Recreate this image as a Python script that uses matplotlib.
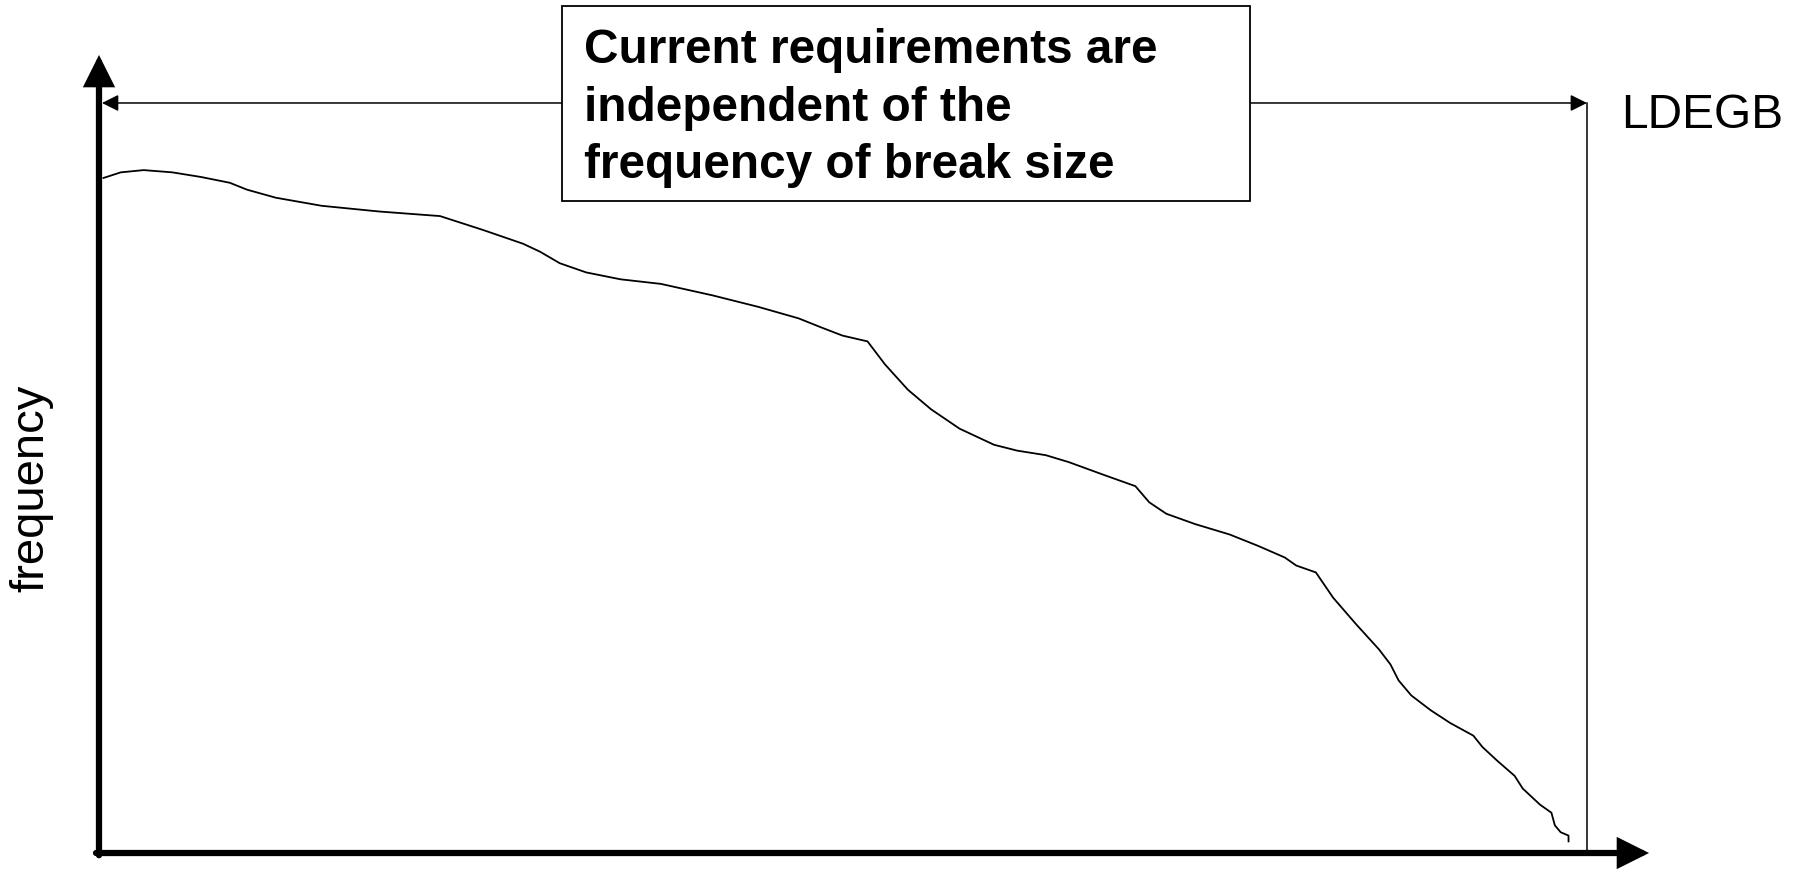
import matplotlib
matplotlib.use("Agg")
import matplotlib.pyplot as plt
from matplotlib.patches import Rectangle

# ---- data (break size vs frequency, arbitrary units: LDEGB = 100) ----
break_size = [0.30, 1.46, 3.0, 4.93, 6.86, 8.79, 9.95, 11.88, 14.97, 18.83, 22.92,
              25.79, 28.49, 29.64, 30.96, 32.74, 35.05, 37.76, 41.23, 44.32, 47.02,
              48.57, 49.96, 51.65, 52.82, 54.36, 55.91, 57.84, 60.15, 61.70, 63.63,
              65.17, 67.49, 69.65, 70.58, 71.73, 73.67, 75.98, 77.92, 79.69, 80.46,
              81.78, 82.94, 84.48, 86.02, 86.79, 87.34, 88.19, 89.50, 90.81, 92.36,
              92.98, 93.98, 95.14, 95.68, 96.84, 97.61, 97.84, 98.23, 98.76, 98.76]
frequency = [90.0, 90.75, 91.05, 90.75, 90.13, 89.36, 88.44, 87.37, 86.29, 85.53, 84.92,
             83.08, 81.24, 80.17, 78.64, 77.41, 76.49, 75.88, 74.35, 72.81, 71.28,
             70.05, 68.99, 68.21, 65.15, 61.77, 59.17, 56.57, 54.43, 53.65, 53.04,
             52.12, 50.44, 48.91, 46.76, 45.23, 43.85, 42.47, 40.93, 39.40, 38.33,
             37.41, 34.04, 30.51, 27.15, 25.15, 23.01, 21.01, 19.03, 17.33, 15.65,
             14.12, 12.28, 10.28, 8.60, 6.45, 5.37, 3.69, 2.77, 2.32, 1.55]
ldegb = 100.0
box_text = "Current requirements are\nindependent of the\nfrequency of break size"
ylabel_text = "frequency"
ldegb_text = "LDEGB"

# ---- layout ----
plt.rcParams['font.family'] = ['Liberation Sans', 'DejaVu Sans']
fig = plt.figure(figsize=(18.02, 8.69), dpi=100)
ax = fig.add_axes([0, 0, 1, 1])
ax.set_xlim(-6.653, 114.45)
ax.set_ylim(-2.133, 113.73)
ax.axis('off')

# axes arrows
axis_style = dict(arrowstyle='-|>,head_length=0.4,head_width=0.2', color='black',
                  lw=4.5, mutation_scale=40, shrinkA=0, shrinkB=0, joinstyle='miter')
ax.annotate('', xy=(0, 106.4), xytext=(0, -0.3), arrowprops=axis_style)
ax.annotate('', xy=(104.17, 0), xytext=(-0.2, 0), arrowprops=axis_style)

# range arrow and LDEGB line
range_y = 100.0
ax.annotate('', xy=(0.2, range_y), xytext=(ldegb, range_y),
            arrowprops=dict(arrowstyle='<|-|>,head_length=0.4,head_width=0.2',
                            color='black', lw=1.1, mutation_scale=25,
                            shrinkA=0, shrinkB=0))
ax.plot([ldegb, ldegb], [0, range_y], color='black', lw=1.1)

# curve
ax.plot(break_size, frequency, color='black', lw=1.3)

# text box
ax.add_patch(Rectangle((31.12, 86.93), 77.35 - 31.12, 112.9 - 86.93,
                       facecolor='white', edgecolor='black', lw=1.3, zorder=5))
ax.text(32.6, 99.3, box_text, ha='left', va='center', fontsize=34.4,
        fontweight='bold', linespacing=1.35, zorder=6)

ax.text(102.3, 96.7, ldegb_text, ha='left', va='baseline', fontsize=34.5)
ax.text(-4.57, 48.67, ylabel_text, ha='center', va='center', rotation=90, fontsize=34)

fig.savefig('out.png', dpi=100)
